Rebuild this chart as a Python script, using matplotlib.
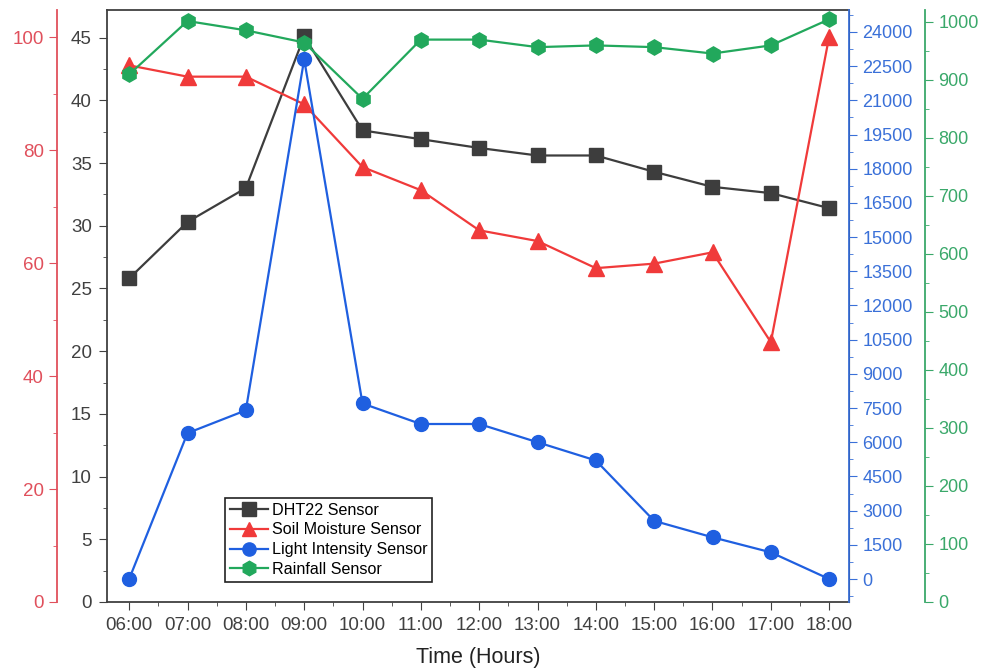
import matplotlib
matplotlib.use("Agg")
import matplotlib.pyplot as plt
from matplotlib.ticker import MultipleLocator

plt.rcParams['font.family'] = ['Liberation Sans', 'DejaVu Sans']

hours = ["06:00", "07:00", "08:00", "09:00", "10:00", "11:00", "12:00",
         "13:00", "14:00", "15:00", "16:00", "17:00", "18:00"]
dht22 = [25.8, 30.3, 33.0, 45.1, 37.6, 36.9, 36.2, 35.6, 35.6, 34.3, 33.1, 32.6, 31.4]
soil = [95.0, 93.0, 93.0, 88.1, 77.0, 72.9, 65.8, 63.9, 59.1, 59.9, 61.9, 46.0, 100.1]
light = [0, 6400, 7400, 22800, 7700, 6800, 6800, 6000, 5200, 2550, 1830, 1170, 0]
rain = [909, 1001, 985, 964, 867, 969, 969, 956, 959, 956, 945, 959, 1004]

c_black = '#3d3d3d'
c_red = '#f03a3a'
c_blue = '#1f5fe0'
c_green = '#22a85c'
c_red_t = '#e0505c'
c_blue_t = '#3a70d8'
c_green_t = '#3aa86a'
c_axis = '#404040'

LS = 13.5

fig = plt.figure(figsize=(9.84, 6.72), dpi=100)
ax = fig.add_axes([107/984, 1-602/672, 742/984, 592/672])
x = list(range(len(hours)))

ax_r = ax.twinx()
ax_b = ax.twinx()
ax_g = ax.twinx()

l1, = ax.plot(x, dht22, color=c_black, marker='s', markersize=10, lw=1.6, label='DHT22 Sensor')
l2, = ax_r.plot(x, soil, color=c_red, marker='^', markersize=11, lw=1.6, label='Soil Moisture Sensor')
l3, = ax_b.plot(x, light, color=c_blue, marker='o', markersize=10, lw=1.6, label='Light Intensity Sensor')
l4, = ax_g.plot(x, rain, color=c_green, marker='h', markersize=11, lw=1.6, label='Rainfall Sensor')

ax.set_xlim(-0.38, 12.34)
ax.set_xticks(x)
ax.set_xticklabels(hours)
ax.xaxis.set_minor_locator(MultipleLocator(0.5))
ax.set_xlabel('Time (Hours)', fontsize=15.5, labelpad=9, color='#222222')

# black axis
ax.set_ylim(0, 47.2)
ax.yaxis.set_major_locator(MultipleLocator(5))
ax.yaxis.set_minor_locator(MultipleLocator(2.5))
ax.tick_params(axis='both', which='major', direction='out', length=6, labelsize=LS,
               colors=c_axis, pad=5)
ax.tick_params(axis='both', which='minor', direction='out', length=3, colors=c_axis)
for s in ['left', 'bottom', 'top']:
    ax.spines[s].set_color(c_axis)
    ax.spines[s].set_linewidth(1.3)

# red axis
ax_r.set_ylim(0, 104.8)
ax_r.yaxis.set_ticks_position('left')
ax_r.yaxis.set_label_position('left')
ax_r.spines['left'].set_position(('axes', -50/742))
ax_r.spines['left'].set_visible(True)
ax_r.spines['left'].set_color(c_red_t)
ax_r.spines['left'].set_linewidth(1.3)
for s in ['right', 'top', 'bottom']:
    ax_r.spines[s].set_visible(False)
ax_r.yaxis.set_major_locator(MultipleLocator(20))
ax_r.yaxis.set_minor_locator(MultipleLocator(10))
ax_r.tick_params(axis='y', which='major', direction='out', length=6, labelsize=LS, colors=c_red_t)
ax_r.tick_params(axis='y', which='minor', direction='out', length=3, colors=c_red_t)

# blue axis
ax_b.set_ylim(-1009, 24963)
ax_b.spines['right'].set_color(c_blue_t)
ax_b.spines['right'].set_linewidth(1.3)
for s in ['left', 'top', 'bottom']:
    ax_b.spines[s].set_visible(False)
ax_b.yaxis.set_major_locator(MultipleLocator(1500))
ax_b.yaxis.set_minor_locator(MultipleLocator(750))
ax_b.tick_params(axis='y', which='major', direction='out', length=6, labelsize=13, colors=c_blue_t)
ax_b.tick_params(axis='y', which='minor', direction='out', length=3, colors=c_blue_t)

# green axis
ax_g.set_ylim(0, 1020)
ax_g.spines['right'].set_position(('axes', 818/742))
ax_g.spines['right'].set_color(c_green_t)
ax_g.spines['right'].set_linewidth(1.3)
for s in ['left', 'top', 'bottom']:
    ax_g.spines[s].set_visible(False)
ax_g.yaxis.set_major_locator(MultipleLocator(100))
ax_g.yaxis.set_minor_locator(MultipleLocator(50))
ax_g.tick_params(axis='y', which='major', direction='out', length=6, labelsize=13, colors=c_green_t)
ax_g.tick_params(axis='y', which='minor', direction='out', length=3, colors=c_green_t)

leg = ax_g.legend(handles=[l1, l2, l3, l4], loc='lower left',
                  bbox_to_anchor=(0.159, 0.034), fontsize=11.6, frameon=True,
                  fancybox=False, edgecolor='#222222', framealpha=1,
                  handlelength=2.4, handletextpad=0.2, borderpad=0.3,
                  borderaxespad=0, labelspacing=0.3, markerscale=0.95)
leg.get_frame().set_linewidth(1.2)

fig.savefig('out.png', dpi=100)
